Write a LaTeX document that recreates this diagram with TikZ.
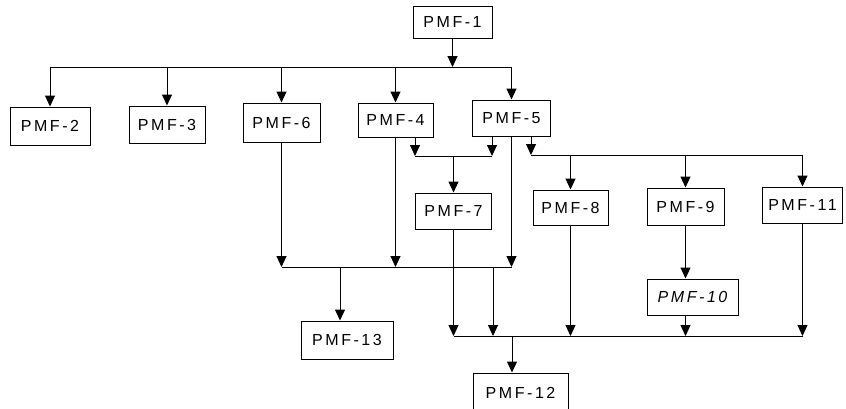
\documentclass[tikz,border=0pt]{standalone}
\usepackage{fontspec}
\setmainfont{Liberation Sans}[LetterSpace=16]
\usetikzlibrary{arrows.meta}
\begin{document}
\begin{tikzpicture}[x=1pt,y=-1pt,
  box/.style={draw, line width=1pt, inner sep=0pt, font=\fontsize{16}{18}\selectfont},
  arr/.style={line width=1pt, -{Triangle[width=10pt,length=11pt]}},
  ln/.style={line width=1pt}]
\useasboundingbox (0,0) rectangle (846,408);
% nodes
\node[box, minimum width=79pt, minimum height=32pt] (p1) at (452.5,22) {PMF-1};
\node[box, minimum width=80pt, minimum height=38pt] (p2) at (50,126) {PMF-2};
\node[box, minimum width=76pt, minimum height=37pt] (p3) at (167,124.5) {PMF-3};
\node[box, minimum width=77pt, minimum height=39pt] (p6) at (281.5,122.5) {PMF-6};
\node[box, minimum width=75pt, minimum height=34pt] (p4) at (395.5,120) {PMF-4};
\node[box, minimum width=78pt, minimum height=36pt] (p5) at (511.5,118) {PMF-5};
\node[box, minimum width=76pt, minimum height=36pt] (p7) at (453.5,211) {PMF-7};
\node[box, minimum width=75pt, minimum height=35pt] (p8) at (570.5,207.5) {PMF-8};
\node[box, minimum width=77pt, minimum height=37pt] (p9) at (685.5,206.5) {PMF-9};
\node[box, minimum width=80pt, minimum height=36pt] (p11) at (802.5,205) {PMF-11};
\node[box, minimum width=91pt, minimum height=36pt, font=\fontsize{16}{18}\selectfont\itshape] (p10) at (692.5,297) {PMF-10};
\node[box, minimum width=92pt, minimum height=38pt] (p13) at (347,340) {PMF-13};
\node[box, minimum width=95pt, minimum height=40pt] (p12) at (520.5,393) {PMF-12};
% bus coordinates
\coordinate (t) at (0,67);
\coordinate (a4) at (415,156);
\coordinate (a5) at (492,156);
\coordinate (b5) at (531,155);
\coordinate (c) at (0,267);
\coordinate (d13) at (340,267);
\coordinate (d12) at (493,267);
\coordinate (e) at (0,336);
\coordinate (f12) at (512,336);
% top bus
\draw[arr] (p1.south) -- (p1.south |- t);
\draw[ln] (p2.north |- t) -- (p5.north |- t);
\foreach \n in {p2,p3,p6,p4,p5} \draw[arr] (\n.north |- t) -- (\n.north);
% PMF-4 / PMF-5 to PMF-7
\draw[arr] (p4.south -| a4) -- (a4);
\draw[arr] (p5.south -| a5) -- (a5);
\draw[ln] (a4) -- (a5);
\draw[arr] (p7.north |- a4) -- (p7.north);
% PMF-5 to PMF-8, 9, 11
\draw[arr] (p5.south -| b5) -- (b5);
\draw[ln] (b5) -- (p11.north |- b5);
\foreach \n in {p8,p9,p11} \draw[arr] (\n.north |- b5) -- (\n.north);
% PMF-9 to PMF-10
\draw[arr] (p9.south) -- (p9.south |- p10.north);
% lower-left bus
\draw[arr] (p6.south) -- (p6.south |- c);
\draw[arr] (p4.south) -- (p4.south |- c);
\draw[arr] (p5.south) -- (p5.south |- c);
\draw[ln] (p6.south |- c) -- (p5.south |- c);
\draw[arr] (d13) -- (p13.north -| d13);
% lower-right bus
\draw[arr] (p7.south) -- (p7.south |- e);
\draw[arr] (d12) -- (d12 |- e);
\draw[arr] (p8.south) -- (p8.south |- e);
\draw[arr] (p10.south -| p9.south) -- (p9.south |- e);
\draw[arr] (p11.south) -- (p11.south |- e);
\draw[ln] (p7.south |- e) -- (p11.south |- e);
\draw[arr] (f12) -- (p12.north -| f12);
\end{tikzpicture}
\end{document}
